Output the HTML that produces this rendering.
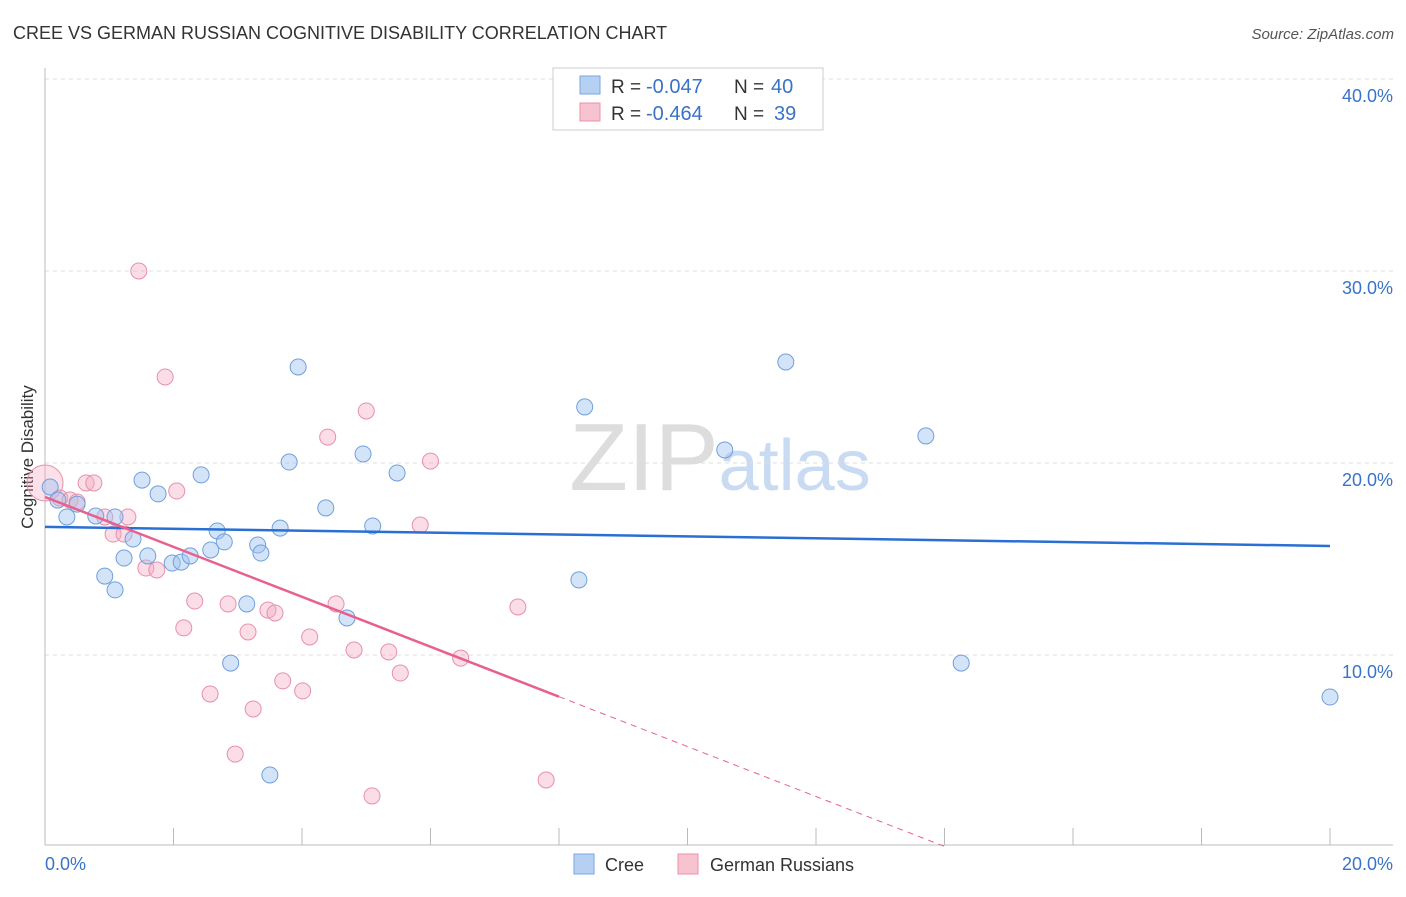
<!DOCTYPE html>
<html><head><meta charset="utf-8"><style>
body{margin:0;background:#fff;font-family:"Liberation Sans",sans-serif;}
svg text{font-family:"Liberation Sans",sans-serif;}
</style></head><body>
<svg id="chart" width="1406" height="892" xmlns="http://www.w3.org/2000/svg">
<text x="13" y="39" font-size="18" fill="#333">CREE VS GERMAN RUSSIAN COGNITIVE DISABILITY CORRELATION CHART</text>
<text x="1394" y="39" font-size="15" fill="#555" font-style="italic" text-anchor="end">Source: ZipAtlas.com</text>
<text x="720" y="490" font-size="96" text-anchor="middle" fill="#ddd" font-family="Liberation Serif">ZIP<tspan fill="#c9dbf2" font-family="Liberation Sans" font-size="72">atlas</tspan></text>
<text transform="translate(33,457) rotate(-90)" font-size="17" fill="#333" text-anchor="middle">Cognitive Disability</text>
<g id="grid"></g><g id="pts"></g><g id="trend"></g>
<g>
<rect x="553" y="68" width="270" height="62" fill="#fff" stroke="#ccc"/>
<rect x="580" y="76" width="20" height="18" fill="#b5d0f2" stroke="#7aa6de"/>
<rect x="580" y="103" width="20" height="18" fill="#f8c3d1" stroke="#e890a8"/>
<text x="611" y="93" font-size="19" fill="#333">R =</text>
<text x="646" y="93" font-size="20" fill="#3a72c8">-0.047</text>
<text x="734" y="93" font-size="19" fill="#333">N =</text>
<text x="771" y="93" font-size="20" fill="#3a72c8">40</text>
<text x="611" y="120" font-size="19" fill="#333">R =</text>
<text x="646" y="120" font-size="20" fill="#3a72c8">-0.464</text>
<text x="734" y="120" font-size="19" fill="#333">N =</text>
<text x="774" y="120" font-size="20" fill="#3a72c8">39</text>
</g>
<g>
<rect x="574" y="854" width="20" height="20" fill="#b5d0f2" stroke="#7aa6de"/>
<text x="605" y="871" font-size="18" fill="#333">Cree</text>
<rect x="678" y="854" width="20" height="20" fill="#f8c3d1" stroke="#e890a8"/>
<text x="710" y="871" font-size="18" fill="#333">German Russians</text>
</g>
</svg>
<script>
const creeX=[0.08,0.20,0.34,0.50,0.79,1.09,0.93,1.09,1.23,1.37,1.51,1.60,1.76,1.98,2.12,2.26,2.43,2.58,2.68,2.79,2.89,3.14,3.31,3.36,3.50,3.66,3.80,3.94,4.37,4.70,4.95,5.10,5.48,8.31,8.40,10.58,11.53,13.71,14.26,20.0];
const creeY=[18.75,18.07,17.19,17.86,17.24,17.19,14.11,13.39,15.05,16.04,19.11,15.16,18.39,14.79,14.84,15.16,19.38,15.47,16.46,15.89,9.58,12.66,15.73,15.31,3.75,16.61,20.05,25.0,17.66,11.93,20.47,16.72,19.48,13.91,22.92,20.68,25.26,21.41,9.58,7.81];
const grX=[0.23,0.39,0.50,0.64,0.76,0.93,1.06,1.23,1.29,1.46,1.57,1.74,1.87,2.05,2.16,2.33,2.57,2.85,2.96,3.16,3.24,3.47,3.58,3.70,4.01,4.12,4.40,4.53,4.81,5.00,5.09,5.35,5.53,5.84,6.00,6.47,7.36,7.80];
const grY=[18.18,18.07,17.97,18.96,18.96,17.19,16.30,16.30,17.19,30.0,14.53,14.43,24.48,18.54,11.41,12.81,7.97,12.66,4.84,11.20,7.19,12.34,12.19,8.65,8.13,10.94,21.35,12.66,10.26,22.71,2.66,10.16,9.06,16.77,20.10,9.84,12.50,3.49];
const bigX=[0.0], bigY=[18.96];
const creeTrend=[16.67,15.68];
const grTrend=[18.23,-1.30];
const yTicks=[10,20,30,40];
const yTickLabels=["10.0%","20.0%","30.0%","40.0%"];
const xTicks=[0,2,4,6,8,10,12,14,16,18,20];
const NS="http://www.w3.org/2000/svg";
const sx=v=>45+v*1285/20, sy=v=>847-v*19.2;
function mk(tag,attrs,parent){const e=document.createElementNS(NS,tag);for(const k in attrs)e.setAttribute(k,attrs[k]);parent.appendChild(e);return e;}
const grid=document.getElementById('grid');
yTicks.forEach((t,i)=>{
 const l=mk('line',{x1:45,x2:1393,y1:sy(t),y2:sy(t),stroke:'#ddd','stroke-dasharray':'4,4'},grid);
 
 
 const tx=mk('text',{x:1393,y:sy(t)+23,'font-size':18,fill:'#3a72c8','text-anchor':'end'},grid);
 tx.textContent=yTickLabels[i];
 
 
});
const ax=mk('line',{x1:45,x2:45,y1:68,y2:845,stroke:'#bbb'},grid);


const bx=mk('line',{x1:45,x2:1393,y1:845,y2:845,stroke:'#bbb'},grid);


xTicks.forEach(t=>{
 const l=mk('line',{x1:sx(t),x2:sx(t),y1:828,y2:845,stroke:'#bbb'},grid);
 
 
});
const xl0=mk('text',{x:45,y:870,'font-size':18,fill:'#3a72c8'},grid);xl0.textContent="0.0%";


const xl1=mk('text',{x:1393,y:870,'font-size':18,fill:'#3a72c8','text-anchor':'end'},grid);xl1.textContent="20.0%";


const pts=document.getElementById('pts');
bigX.forEach((x,i)=>{const c=mk('circle',{cx:sx(x),cy:sy(bigY[i]),r:18,fill:'rgba(245,170,195,0.35)',stroke:'#e890a8'},pts);
 
 });
grX.forEach((x,i)=>{const c=mk('circle',{cx:sx(x),cy:sy(grY[i]),r:8,fill:'rgba(245,170,195,0.4)',stroke:'#e890a8'},pts);
 
 });
creeX.forEach((x,i)=>{const c=mk('circle',{cx:sx(x),cy:sy(creeY[i]),r:8,fill:'rgba(160,195,240,0.45)',stroke:'#6f9fdc'},pts);
 
 });
const tr=document.getElementById('trend');
const bl=mk('line',{x1:sx(0),y1:sy(creeTrend[0]),x2:sx(20),y2:sy(creeTrend[1]),stroke:'#2a6fd4','stroke-width':2.5},tr);


const gy=x=>grTrend[0]+grTrend[1]*x;
const pl=mk('line',{x1:sx(0),y1:sy(gy(0)),x2:sx(8.0),y2:sy(gy(8.0)),stroke:'#e8608e','stroke-width':2.5},tr);


const xe=-grTrend[0]/grTrend[1];
const pd=mk('line',{x1:sx(8.0),y1:sy(gy(8.0)),x2:sx(xe),y2:sy(0),stroke:'#e8608e','stroke-width':1,'stroke-dasharray':'6,5'},tr);


</script>
</body></html>
